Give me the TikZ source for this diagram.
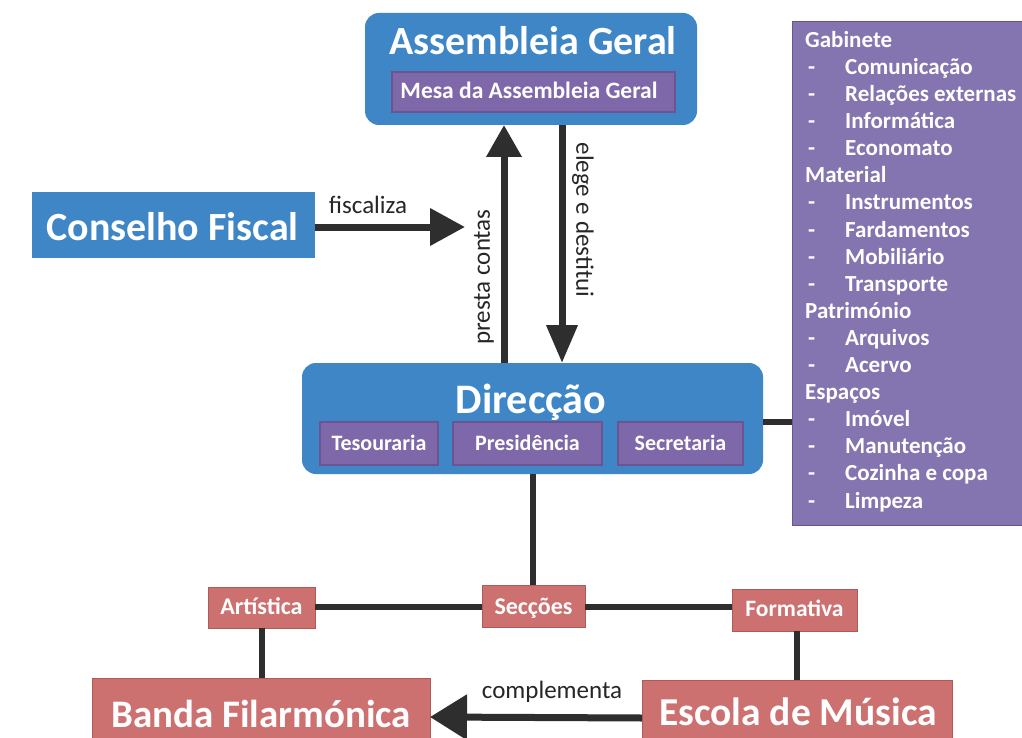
\documentclass[tikz,border=0pt]{standalone}
\usepackage{fontspec}
\setmainfont{Carlito}
\usetikzlibrary{arrows.meta}
\definecolor{cblue}{HTML}{3F86C6}
\definecolor{csub}{HTML}{7E68A9}
\definecolor{csubdk}{HTML}{6B5493}
\definecolor{clist}{HTML}{8474B0}
\definecolor{cred}{HTML}{CC7170}
\definecolor{creddk}{HTML}{B05A58}
\definecolor{cline}{HTML}{2E2E2E}
\definecolor{clabel}{HTML}{262626}
\tikzset{
  box/.style={inner sep=0pt, outer sep=0pt},
  bluebox/.style={box, fill=cblue, rounded corners=14pt},
  bluesq/.style={box, fill=cblue},
  subbox/.style={box, fill=csub, draw=csubdk, line width=1.2pt},
  redbox/.style={box, fill=cred, draw=creddk, line width=1pt},
  listbox/.style={box, fill=clist, draw=csubdk, line width=1pt},
  title/.style={text=white, font=\bfseries\fontsize{40}{42}\selectfont, inner sep=0pt, anchor=base},
  subtxt/.style={text=white, font=\bfseries\fontsize{22}{24}\selectfont, inner sep=0pt, anchor=base},
  lbl/.style={text=clabel, font=\fontsize{25}{28}\selectfont, inner sep=0pt},
  conn/.style={draw=cline, line width=6pt},
  arrline/.style={draw=cline, line width=7pt},
}
\begin{document}
\begin{tikzpicture}[x=1pt,y=-1pt]
\useasboundingbox (0,0) rectangle (1022,738);
\clip (0,0) rectangle (1022,738);
\fill[white] (0,0) rectangle (1022,738);

% Assembleia Geral
\node[bluebox, minimum width=332pt, minimum height=112pt] (ag) at (531,69) {};
\node[title] (agt) at (533,55) {Assembleia Geral};
\node[subbox, minimum width=283pt, minimum height=40pt] (mesa) at (533.5,92) {};
\node[subtxt, font=\bfseries\fontsize{23.5}{24}\selectfont] (mesat) at (529,99) {Mesa da Assembleia Geral};

% Conselho Fiscal
\node[bluesq, minimum width=283pt, minimum height=66pt] (cf) at (173.5,225) {};
\node[title] (cft) at (172.5,240) {Conselho Fiscal};

% Direccao
\node[bluebox, minimum width=461pt, minimum height=111pt] (dir) at (532.5,418.5) {};
\node[title, font=\bfseries\fontsize{42}{44}\selectfont] (dirt) at (531,413) {Direcção};
\node[subbox, minimum width=118pt, minimum height=43pt] (tes) at (379,443.5) {};
\node[subtxt] (test) at (379,450) {Tesouraria};
\node[subbox, minimum width=149pt, minimum height=43pt] (pres) at (527.5,443.5) {};
\node[subtxt] (prest) at (527.5,450) {Presidência};
\node[subbox, minimum width=125pt, minimum height=43pt] (sec) at (680.5,443.5) {};
\node[subtxt] (sect) at (680.5,450) {Secretaria};

% list box
\node[listbox, minimum width=240pt, minimum height=503pt] (lst) at (912,273.5) {};
\node[text=white, font=\bfseries\fontsize{23}{27.1}\selectfont, align=left, anchor=north west, inner sep=0pt] (lstt) at (805,31) {%
Gabinete\\
\makebox[40pt][l]{\hspace{3pt}-}Comunicação\\
\makebox[40pt][l]{\hspace{3pt}-}Relações externas\\
\makebox[40pt][l]{\hspace{3pt}-}Informática\\
\makebox[40pt][l]{\hspace{3pt}-}Economato\\
Material\\
\makebox[40pt][l]{\hspace{3pt}-}Instrumentos\\
\makebox[40pt][l]{\hspace{3pt}-}Fardamentos\\
\makebox[40pt][l]{\hspace{3pt}-}Mobiliário\\
\makebox[40pt][l]{\hspace{3pt}-}Transporte\\
Património\\
\makebox[40pt][l]{\hspace{3pt}-}Arquivos\\
\makebox[40pt][l]{\hspace{3pt}-}Acervo\\
Espaços\\
\makebox[40pt][l]{\hspace{3pt}-}Imóvel\\
\makebox[40pt][l]{\hspace{3pt}-}Manutenção\\
\makebox[40pt][l]{\hspace{3pt}-}Cozinha e copa\\
\makebox[40pt][l]{\hspace{3pt}-}Limpeza};

% sections
\node[redbox, minimum width=107pt, minimum height=41pt] (art) at (261.5,607.5) {};
\node[subtxt, font=\bfseries\fontsize{24}{26}\selectfont] (artt) at (261.5,614) {Artística};
\node[redbox, minimum width=103pt, minimum height=42pt] (secc) at (533.5,606) {};
\node[subtxt, font=\bfseries\fontsize{24}{26}\selectfont] (secct) at (533.5,614) {Secções};
\node[redbox, minimum width=125pt, minimum height=42pt] (form) at (794.5,610) {};
\node[subtxt, font=\bfseries\fontsize{23.5}{26}\selectfont] (formt) at (794.5,616) {Formativa};

\node[redbox, minimum width=338pt, minimum height=78pt] (banda) at (261,717) {};
\node[title, font=\bfseries\fontsize{39}{41}\selectfont] (bandat) at (261,727) {Banda Filarmónica};
\node[redbox, minimum width=310pt, minimum height=76pt] (esc) at (797,718) {};
\node[title, font=\bfseries\fontsize{39.5}{42}\selectfont] (esct) at (798,725) {Escola de Música};

% connectors
\draw[arrline, -{Triangle[length=32pt,width=34pt]}] (dir.north -| 504,0) -- (ag.south -| 504,0);
\node[lbl, rotate=90] (pc) at (484,277) {presta contas};
\draw[arrline, -{Triangle[length=38pt,width=30pt]}] (ag.south -| 562,0) -- (dir.north -| 562,0);
\node[lbl, rotate=-90] (ed) at (583,220) {elege e destitui};

\coordinate (fend) at (465,227);
\draw[arrline, -{Triangle[length=35pt,width=36pt]}] (cf.east |- fend) -- (fend);
\node[lbl, anchor=base] (fl) at (368,213) {fiscaliza};

\draw[conn] (dir.east |- 0,422) -- (lst.west |- 0,422);
\draw[conn] (dir.south -| 533,0) -- (secc.north -| 533,0);
\draw[conn] (art.east |- 0,607) -- (secc.west |- 0,607);
\draw[conn] (secc.east |- 0,607) -- (form.west |- 0,607);
\draw[conn] (art.south -| 262,0) -- (banda.north -| 262,0);
\draw[conn] (form.south -| 797,0) -- (esc.north -| 797,0);

\draw[arrline, -{Triangle[length=37pt,width=44pt]}] (esc.west) -- (banda.east);
\node[lbl, anchor=base] (cl) at (552,698) {complementa};
\end{tikzpicture}
\end{document}
